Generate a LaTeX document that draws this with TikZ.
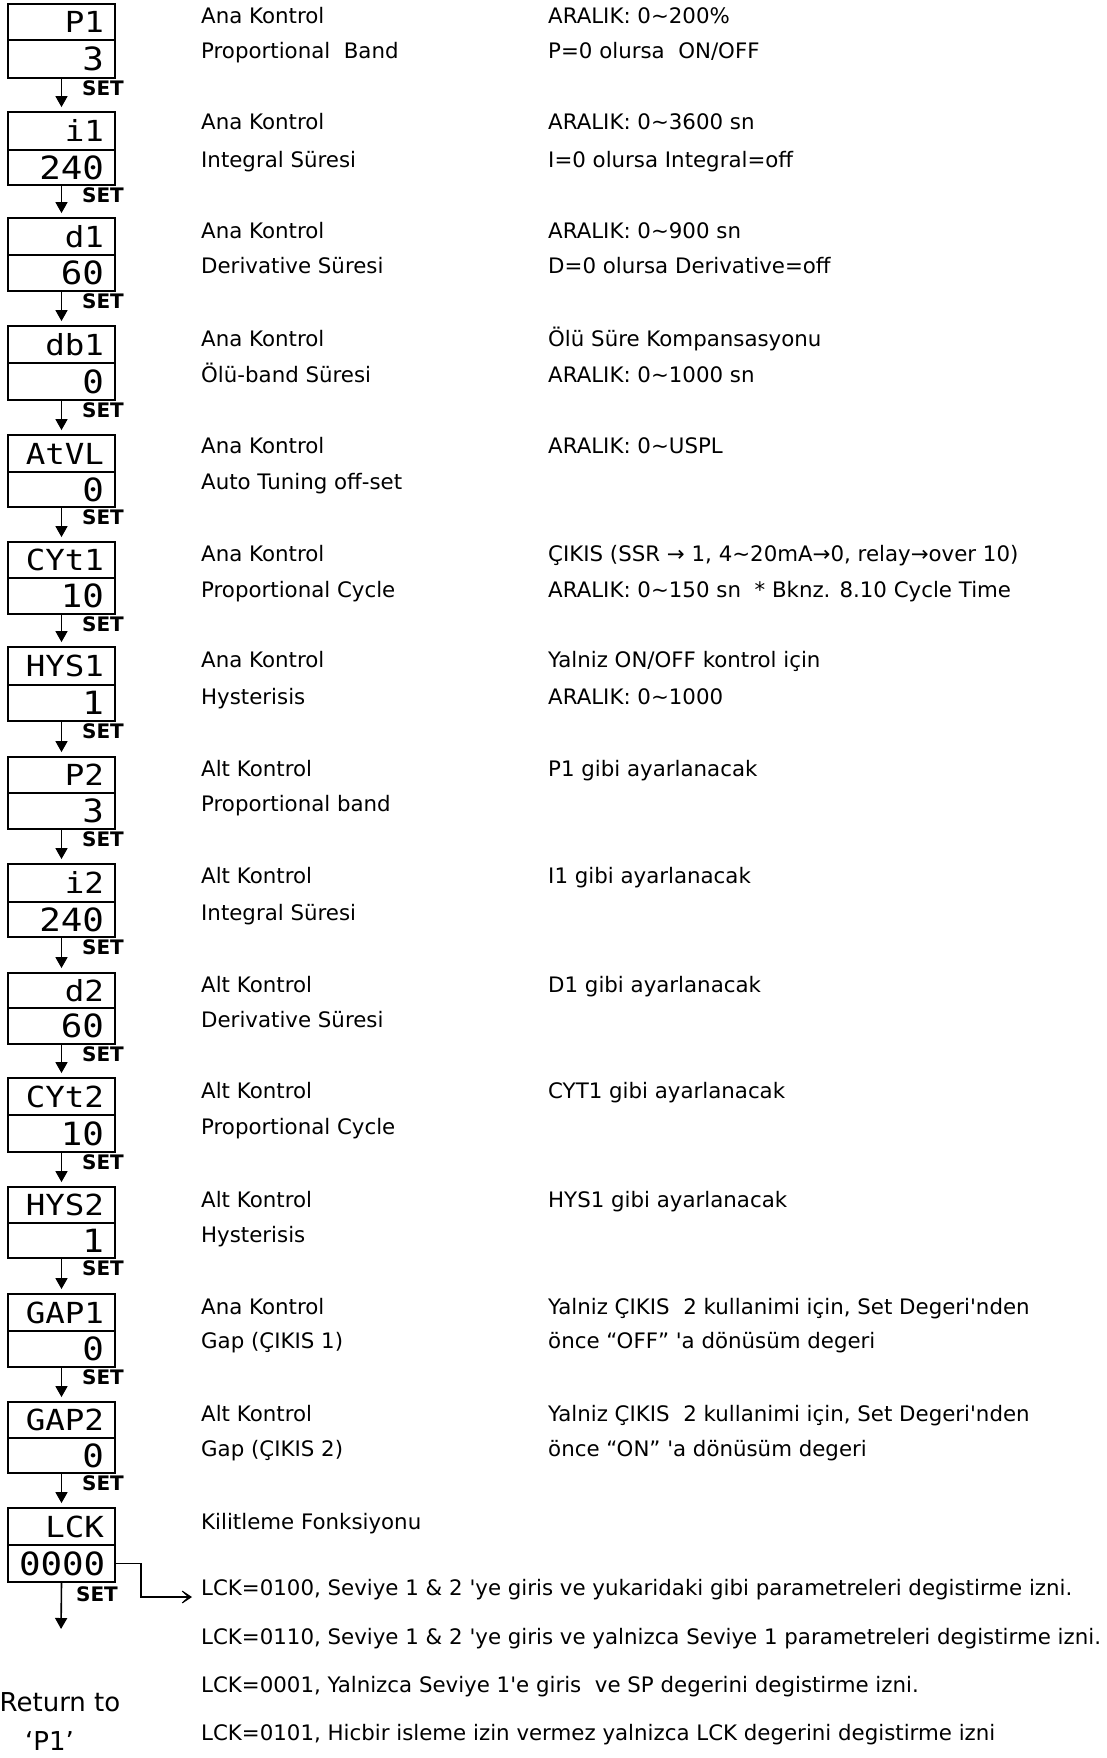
\documentclass[tikz,border=0pt]{standalone}
\usepackage{fontspec}
\setmainfont{DejaVu Sans}
\newfontfamily\segfont{DejaVu Sans Mono}[FakeStretch=1.12]
\usetikzlibrary{arrows.meta}
\begin{document}
\begin{tikzpicture}[x=1pt,y=-1pt,
  disp/.style={draw, line width=1.8pt, rectangle, minimum width=107pt, inner xsep=0pt, inner ysep=0pt, text width=85pt, align=right},
  segU/.style={font=\segfont\fontsize{29}{29}\selectfont, text height=21pt, text depth=0pt},
  segL/.style={font=\segfont\fontsize{32}{32}\selectfont, text height=23.5pt, text depth=0pt},
  arr/.style={line width=1.6pt, shorten >=4pt, -{Triangle[length=11pt,width=12pt]}},
  lckarr/.style={line width=1.2pt, -{Stealth[length=15pt,width=20pt,inset=11pt]}},
  setlbl/.style={font=\bfseries\fontsize{20}{20}\selectfont, inner sep=0pt},
  txt/.style={anchor=base west, inner sep=0pt, font=\fontsize{21.33}{25}\selectfont},
  rettxt/.style={anchor=base, inner sep=0pt, font=\fontsize{26}{30}\selectfont}]
\useasboundingbox (0,0) rectangle (1107,1758);
% display boxes
\foreach \i/\T/\M/\B/\up/\lo in {
  1/4/40/78/P1/3,
  2/112/150/185/i1/240,
  3/218/255/291/d1/60,
  4/326/363/400/db1/0,
  5/435/472/507/AtVL/0,
  6/542/578/614/CYt1/10,
  7/647/685/721/HYS1/1,
  8/757/793/829/P2/3,
  9/864/902/937/i2/240,
  10/973/1008/1044/d2/60,
  11/1078/1115/1152/CYt2/10,
  12/1187/1223/1258/HYS2/1,
  13/1294/1331/1367/GAP1/0,
  14/1402/1438/1473/GAP2/0,
  15/1508/1545/1582/LCK/0000}{
  \node[disp, segU, minimum height={(\M-\T)*1pt}] (u\i) at (61.5,{(\T+\M)/2}) {\up};
  \node[disp, segL, minimum height={(\B-\M)*1pt}] (l\i) at (61.5,{(\M+\B)/2}) {\lo};
}
% SET labels
\foreach \i/\B in {1/78,2/185,3/291,4/400,5/507,6/614,7/721,8/829,9/937,10/1044,11/1152,12/1258,13/1367,14/1473}{
  \node[setlbl] (s\i) at (103,\B+10.5) {SET};
}
\node[setlbl] (s15) at (97,1594) {SET};
% arrows
\foreach \i [evaluate=\i as \j using int(\i+1)] in {1,...,14}{
  \draw[arr] (l\i.south) -- (u\j.north);
}
\coordinate (retpt) at (61,1633);
\draw[arr] (l15.south) -- (retpt);
\coordinate (lckend) at (192,1597);
\draw[lckarr] (l15.east) -- ++(25,0) |- (lckend);
% return text
\node[rettxt] (ret1) at (60,1711) {Return to};
\node[rettxt] (ret2) at (49.5,1750) {‘P1’};
% column 1
\node[txt] (a1) at (201,24) {Ana Kontrol};
\node[txt] (b1) at (201,59) {Proportional\ \ Band};
\node[txt] (a2) at (201,130) {Ana Kontrol};
\node[txt] (b2) at (201,167) {Integral Süresi};
\node[txt] (a3) at (201,238) {Ana Kontrol};
\node[txt] (b3) at (201,273) {Derivative Süresi};
\node[txt] (a4) at (201,346) {Ana Kontrol};
\node[txt] (b4) at (201,382) {Ölü-band Süresi};
\node[txt] (a5) at (201,453) {Ana Kontrol};
\node[txt] (b5) at (201,489) {Auto Tuning off-set};
\node[txt] (a6) at (201,561) {Ana Kontrol};
\node[txt] (b6) at (201,597) {Proportional Cycle};
\node[txt] (a7) at (201,667) {Ana Kontrol};
\node[txt] (b7) at (201,704) {Hysterisis};
\node[txt] (a8) at (201,776) {Alt Kontrol};
\node[txt] (b8) at (201,811) {Proportional band};
\node[txt] (a9) at (201,883) {Alt Kontrol};
\node[txt] (b9) at (201,920) {Integral Süresi};
\node[txt] (a10) at (201,992) {Alt Kontrol};
\node[txt] (b10) at (201,1027) {Derivative Süresi};
\node[txt] (a11) at (201,1098) {Alt Kontrol};
\node[txt] (b11) at (201,1134) {Proportional Cycle};
\node[txt] (a12) at (201,1207) {Alt Kontrol};
\node[txt] (b12) at (201,1242) {Hysterisis};
\node[txt] (a13) at (201,1314) {Ana Kontrol};
\node[txt] (b13) at (201,1348) {Gap (ÇIKIS 1)};
\node[txt] (a14) at (201,1421) {Alt Kontrol};
\node[txt] (b14) at (201,1456) {Gap (ÇIKIS 2)};
\node[txt] (a15) at (201,1529) {Kilitleme Fonksiyonu};
% column 2
\node[txt] (c1) at (548,24) {ARALIK: 0\textasciitilde200\%};
\node[txt] (e1) at (548,59) {P=0 olursa\ \ ON/OFF};
\node[txt] (c2) at (548,130) {ARALIK: 0\textasciitilde3600 sn};
\node[txt] (e2) at (548,167) {I=0 olursa Integral=off};
\node[txt] (c3) at (548,238) {ARALIK: 0\textasciitilde900 sn};
\node[txt] (e3) at (548,273) {D=0 olursa Derivative=off};
\node[txt] (c4) at (548,346) {Ölü Süre Kompansasyonu};
\node[txt] (e4) at (548,382) {ARALIK: 0\textasciitilde1000 sn};
\node[txt] (c5) at (548,453) {ARALIK: 0\textasciitilde USPL};
\node[txt] (c6) at (548,561) {ÇIKIS (SSR → 1, 4\textasciitilde20mA→0, relay→over 10)};
\node[txt] (e6) at (548,597) {ARALIK: 0\textasciitilde150 sn\ \ * Bknz. 8.10 Cycle Time};
\node[txt] (c7) at (548,667) {Yalniz ON/OFF kontrol için};
\node[txt] (e7) at (548,704) {ARALIK: 0\textasciitilde1000};
\node[txt] (c8) at (548,776) {P1 gibi ayarlanacak};
\node[txt] (c9) at (548,883) {I1 gibi ayarlanacak};
\node[txt] (c10) at (548,992) {D1 gibi ayarlanacak};
\node[txt] (c11) at (548,1098) {CYT1 gibi ayarlanacak};
\node[txt] (c12) at (548,1207) {HYS1 gibi ayarlanacak};
\node[txt] (c13) at (548,1314) {Yalniz ÇIKIS\ \ 2 kullanimi için, Set Degeri\textquotesingle nden};
\node[txt] (e13) at (548,1348) {önce “OFF” \textquotesingle a dönüsüm degeri};
\node[txt] (c14) at (548,1421) {Yalniz ÇIKIS\ \ 2 kullanimi için, Set Degeri\textquotesingle nden};
\node[txt] (e14) at (548,1456) {önce “ON” \textquotesingle a dönüsüm degeri};
% LCK lines
\node[txt] (k1) at (201,1595) {LCK=0100, Seviye 1 \& 2 \textquotesingle ye giris ve yukaridaki gibi parametreleri degistirme izni.};
\node[txt] (k2) at (201,1644) {LCK=0110, Seviye 1 \& 2 \textquotesingle ye giris ve yalnizca Seviye 1 parametreleri degistirme izni.};
\node[txt] (k3) at (201,1692) {LCK=0001, Yalnizca Seviye 1\textquotesingle e giris\ \ ve SP degerini degistirme izni.};
\node[txt] (k4) at (201,1740) {LCK=0101, Hicbir isleme izin vermez yalnizca LCK degerini degistirme izni};
\end{tikzpicture}
\end{document}
